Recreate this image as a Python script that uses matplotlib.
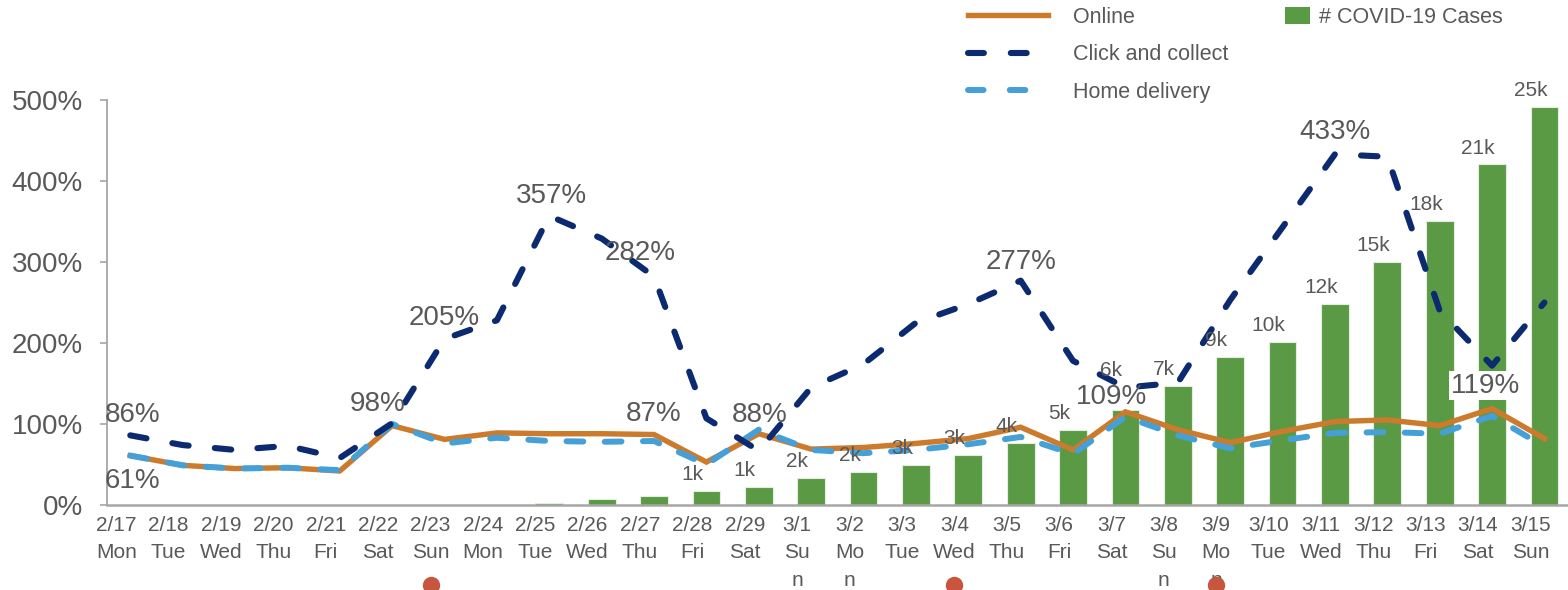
import numpy as np
import matplotlib.pyplot as plt
import matplotlib.transforms as mtransforms
from matplotlib.lines import Line2D
from matplotlib.patches import Patch

plt.rcParams['font.family'] = ['Liberation Sans', 'DejaVu Sans']

# data
dates = ["2/17", "2/18", "2/19", "2/20", "2/21", "2/22", "2/23", "2/24", "2/25", "2/26",
         "2/27", "2/28", "2/29", "3/1", "3/2", "3/3", "3/4", "3/5", "3/6", "3/7",
         "3/8", "3/9", "3/10", "3/11", "3/12", "3/13", "3/14", "3/15"]
weekdays = ["Mon", "Tue", "Wed", "Thu", "Fri", "Sat", "Sun", "Mon", "Tue", "Wed",
            "Thu", "Fri", "Sat", "Su\nn", "Mo\nn", "Tue", "Wed", "Thu", "Fri", "Sat",
            "Su\nn", "Mo\nn", "Tue", "Wed", "Thu", "Fri", "Sat", "Sun"]
online = [61, 49, 45, 46, 42, 98, 81, 89, 88, 88, 87, 53, 88, 69, 71, 76, 82, 96, 68, 115,
          93, 77, 91, 103, 105, 98, 119, 82]
click_collect = [86, 74, 68, 73, 58, 101, 205, 228, 357, 329, 282, 107, 67, 145, 174, 225,
                 248, 277, 178, 145, 151, 253, 343, 433, 430, 240, 172, 250]
home_delivery = [61, 49, 45, 46, 43, 100, 76, 83, 79, 78, 79, 50, 93, 68, 64, 68, 75, 84,
                 63, 109, 86, 70, 80, 89, 90, 88, 110, 72]
covid_cases = [0, 0, 0, 0, 0, 0, 0, 0, 100, 350, 550, 888, 1128, 1694, 2036, 2502, 3089,
               3858, 4636, 5883, 7375, 9172, 10149, 12462, 15113, 17660, 21157, 24747]
first_case_label = "2/28"
event_dates = ["2/23", "3/4", "3/9"]

# which series / day gets a % label
pct_labels = [("click", "2/17"), ("home", "2/17"), ("online", "2/22"), ("click", "2/23"),
              ("click", "2/25"), ("click", "2/27"), ("online", "2/27"), ("online", "2/29"),
              ("click", "3/5"), ("home", "3/7"), ("click", "3/11"), ("online", "3/14")]
# offsets of those labels in pixels (dx, dy)
pct_offsets = [(2, 20), (2, -25), (-15, 22), (0, 21), (2, 20), (-14, 24), (0, 21),
               (1, 19), (0, 19), (-14, 20), (0, 22), (-7, 23)]
# bar label moved up to clear the 109% label
bar_label_lift = {"3/7": 23}

orange = "#CC7A2B"
navy = "#0B2A6F"
light_blue = "#45A0D8"
green = "#5A9A45"
grey = "#595959"
dot_red = "#C8553D"

series = {"online": online, "click": click_collect, "home": home_delivery}
x = np.arange(len(dates))

fig = plt.figure(figsize=(15.68, 5.9), dpi=100)
ax = fig.add_axes([106.7 / 1568, 85 / 590, 1 - 106.7 / 1568, 405 / 590])
ax2 = ax.twinx()
ax.set_zorder(ax2.get_zorder() + 1)
ax.patch.set_visible(False)

ax2.bar(x, covid_cases, width=0.53, color=green, edgecolor="#E3EFDC", linewidth=0.8)
ax2.set_ylim(0, 25163)
ax2.set_yticks([])
for s in ax2.spines.values():
    s.set_visible(False)

ax.plot(x, online, color=orange, lw=3.9, solid_joinstyle="miter", zorder=3)
ax.plot(x, click_collect, color=navy, lw=4.4, linestyle=(0, (2.7, 4.3)),
        dash_capstyle="round", zorder=4)
ax.plot(x, home_delivery, color=light_blue, lw=4.3, linestyle=(0, (2.8, 3.6)),
        dash_capstyle="round", zorder=3.5)

ax.set_xlim(-0.45, 27.45)
ax.set_ylim(0, 500)
ax.set_yticks(range(0, 501, 100))
ax.set_yticklabels([f"{v}%" for v in range(0, 501, 100)])
ax.set_xticks(x)
ax.set_xticklabels([f"{d}\n{w}" for d, w in zip(dates, weekdays)], linespacing=1.55,
                   va="top")
ax.tick_params(axis="y", labelsize=20, colors=grey, length=5, width=1.2, pad=12,
               color="#A6A6A6")
ax.tick_params(axis="x", labelsize=15, colors=grey, length=0, pad=8)
for s in ["top", "right"]:
    ax.spines[s].set_visible(False)
ax.spines["left"].set_color("#A6A6A6")
ax.spines["left"].set_linewidth(1.3)
ax.spines["bottom"].set_color("#A6A6A6")
ax.spines["bottom"].set_linewidth(1.8)

shift = mtransforms.ScaledTranslation(-14 / 100, 0, fig.dpi_scale_trans)
for lab in ax.get_xticklabels():
    lab.set_transform(lab.get_transform() + shift)

# bar labels
start = dates.index(first_case_label)
for i in range(start, len(dates)):
    lift = bar_label_lift.get(dates[i], 0)
    ax.annotate(f"{round(covid_cases[i] / 1000)}k", (x[i], covid_cases[i]),
                xycoords=ax2.transData, xytext=(-10, 5 + lift * 0.72),
                textcoords="offset points", ha="center", va="bottom", fontsize=15,
                color=grey, zorder=6)

# percentage labels
for (name, d), (dx, dy) in zip(pct_labels, pct_offsets):
    i = dates.index(d)
    v = series[name][i]
    bbox = dict(facecolor="white", edgecolor="none", pad=1) if d == "3/14" else None
    ax.annotate(f"{v}%", (x[i], v), xytext=(dx * 0.72, dy * 0.72),
                textcoords="offset points", ha="center", va="center", fontsize=20,
                color=grey, zorder=6, bbox=bbox)

# event dots under the axis labels
trans = mtransforms.blended_transform_factory(ax.transData, ax.transAxes) + shift
ev = [dates.index(d) for d in event_dates]
ax.plot(ev, [-0.1975] * len(ev), "o", color=dot_red, ms=11.5, transform=trans,
        clip_on=False, zorder=7)

line_handles = [
    Line2D([], [], color=orange, lw=3.9),
    Line2D([], [], color=navy, lw=4.4, linestyle=(0, (2.6, 4.4)), dash_capstyle="round"),
    Line2D([], [], color=light_blue, lw=4.3, linestyle=(0, (2.6, 4.4)), dash_capstyle="round"),
]
leg1 = fig.legend(line_handles, ["Online", "Click and collect", "Home delivery"],
                  loc="upper left", bbox_to_anchor=(968 / 1568, 1 - 7 / 590),
                  frameon=False, fontsize=15.5, handlelength=3.7, handletextpad=1.2,
                  labelspacing=0.76, borderpad=0, borderaxespad=0, labelcolor=grey)
leg2 = fig.legend([Patch(facecolor=green, edgecolor="none")], ["# COVID-19 Cases"],
                  loc="upper left", bbox_to_anchor=(1285 / 1568, 1 - 7 / 590),
                  frameon=False, fontsize=15.5, handlelength=1.15, handleheight=0.85,
                  handletextpad=0.45, borderpad=0, borderaxespad=0, labelcolor=grey)

fig.savefig("out.png", dpi=100)
